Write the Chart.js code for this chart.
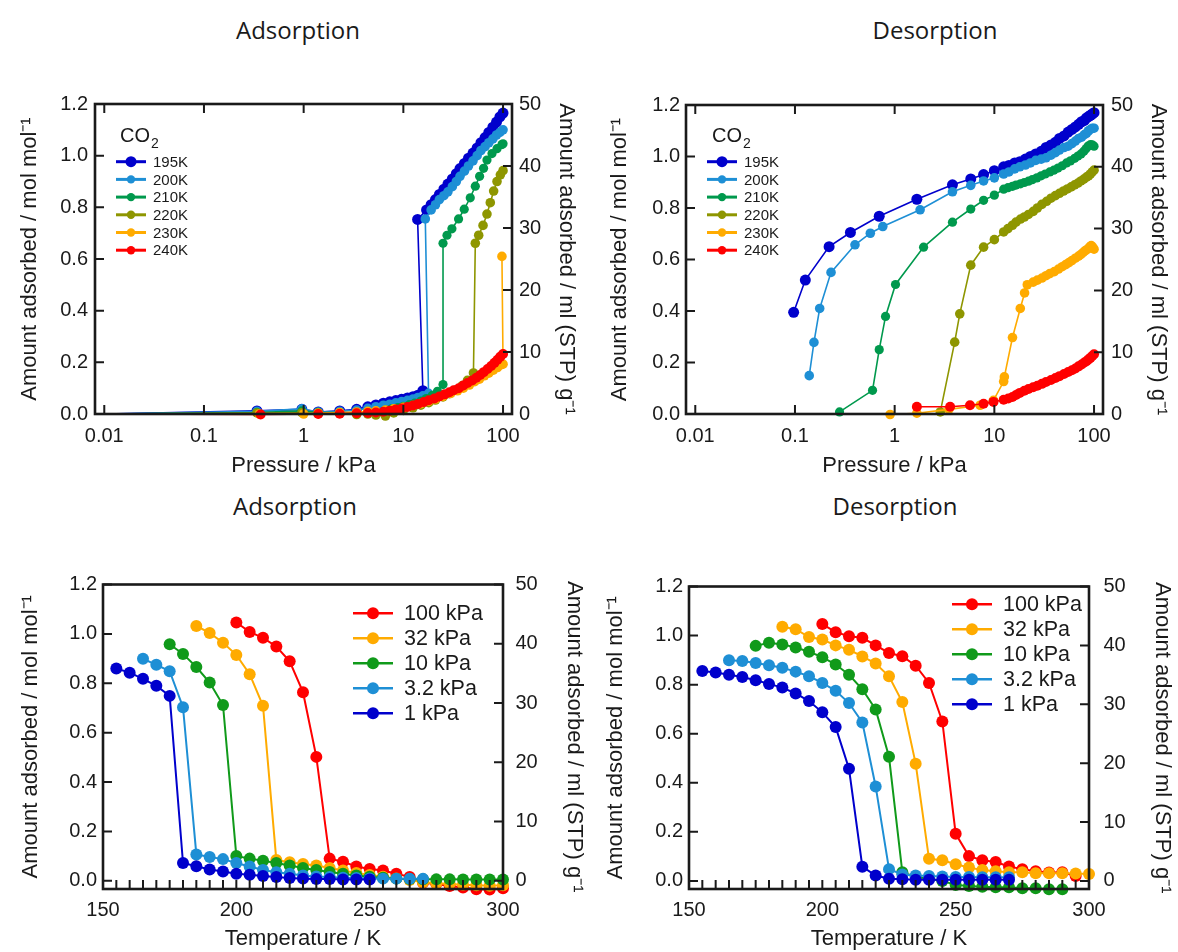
<!DOCTYPE html>
<html>
<head>
<meta charset="utf-8">
<script src="https://cdn.jsdelivr.net/npm/chart.js@4.4.1/dist/chart.umd.min.js"></script>
<style>
  body { margin: 0; background: #fff; width: 1178px; height: 952px; position: relative; overflow: hidden; }
  canvas { position: absolute; }
  .ttl { position: absolute; font-family: "Open Sans", sans-serif; font-size: 24px; color: #1a1a1a;
         transform: translateX(-50%); white-space: nowrap; line-height: 32px; }
</style>
</head>
<body>
<div class="ttl" style="left:298px; top:14px;">Adsorption</div>
<div class="ttl" style="left:935px; top:14px;">Desorption</div>
<div class="ttl" style="left:295px; top:490px;">Adsorption</div>
<div class="ttl" style="left:895px; top:490px;">Desorption</div>

<canvas id="isoAds" width="590" height="400" style="left:0; top:85px;"></canvas>
<canvas id="isoDes" width="588" height="400" style="left:590px; top:85px;"></canvas>
<canvas id="tAds" width="590" height="392" style="left:0; top:560px;"></canvas>
<canvas id="tDes" width="588" height="392" style="left:590px; top:560px;"></canvas>

<script>
// ---- tick values ----
const molTicks = [0, 0.2, 0.4, 0.6, 0.8, 1.0, 1.2];
const mlTicks = [0, 10, 20, 30, 40, 50];
const pTicks = [0.01, 0.1, 1, 10, 100];
const tTicks = [150, 200, 250, 300];
const tMarks = [155, 160, 165, 170, 175, 180, 185, 190, 195, 200, 205, 210, 215, 220, 225, 230, 235, 240, 245,
                250, 255, 260, 265, 270, 275, 280, 285, 290, 295];

// ---- isotherms, adsorption: [pressure kPa, mol/mol] ----
const ads195 = [[0.01,0],[0.34,0.012],[0.96,0.018],[1.4,0.008],[2.3,0.012],[3.4,0.018],[4.4,0.028],[5.3,0.035],[6.3,0.042],[7.3,0.047],[8.4,0.052],[9.6,0.057],[11,0.062],[12.5,0.067],[14,0.073],[15.7,0.09],
  [13.9,0.753],[17.1,0.79],[19,0.81],[21,0.83],[23,0.85],[25.5,0.87],[28,0.89],[31,0.91],[34,0.93],[37,0.95],[41,0.97],[45,0.99],[50,1.01],[55,1.03],[60,1.05],[66,1.07],[72,1.09],[79,1.11],[86,1.13],[93,1.15],[100,1.165]];
const ads200 = [[0.01,0],[0.34,0.01],[0.96,0.02],[1.4,0.008],[2.3,0.01],[3.4,0.015],[4.4,0.022],[5.3,0.028],[6.3,0.034],[7.3,0.038],[8.4,0.043],[9.6,0.048],[11,0.053],[12.5,0.058],[14,0.064],[15.7,0.07],[17.9,0.08],
  [16.6,0.755],[19,0.79],[21,0.81],[23,0.83],[25.5,0.845],[28,0.86],[31,0.88],[34,0.9],[37,0.92],[41,0.94],[45,0.96],[50,0.98],[55,1.0],[60,1.02],[66,1.035],[72,1.05],[79,1.065],[86,1.08],[93,1.09],[100,1.1]];
const ads210 = [[0.01,0],[0.34,0.006],[0.96,0.012],[1.4,0.006],[2.3,0.006],[3.4,0.003],[4.4,0.006],[5.3,0.01],[6.6,0.015],[7.6,0.02],[8.8,0.025],[10,0.03],[11.5,0.036],[13,0.042],[15,0.05],[17,0.06],[19.5,0.072],[22,0.088],[25,0.114],
  [25,0.661],[27.4,0.692],[30.7,0.717],[35.8,0.755],[40.8,0.793],[46.9,0.837],[52.7,0.882],[58.2,0.92],[63.8,0.951],[69,0.983],[77.5,1.008],[87,1.027],[97.5,1.043],[100,1.046]];
const ads220 = [[0.01,0],[0.34,0.004],[0.96,0.005],[1.4,0.002],[2.3,0.003],[3.4,-0.002],[4.4,0],[5.3,-0.004],[6.6,-0.008],[8,0.004],[10,0.014],[12.5,0.024],[15,0.034],[18,0.044],[21,0.054],[25,0.066],[29,0.079],[34,0.094],[39,0.11],[44,0.13],[50.5,0.159],
  [52.7,0.661],[57,0.692],[63,0.73],[69,0.774],[74.5,0.818],[80.5,0.863],[87,0.9],[94,0.926],[100,0.942]];
const ads230 = [[0.01,0],[0.36,0],[1.0,0],[1.4,0.004],[2.3,0.006],[3.4,0.008],[4.4,0.01],[5.3,0.012],[6.6,0.015],[8,0.02],[10,0.026],[12.5,0.033],[15,0.04],[18,0.05],[21,0.058],[25,0.068],[30,0.08],[35,0.09],[40,0.1],[46,0.112],[52,0.125],[58,0.135],[65,0.148],[72,0.158],[80,0.17],[88,0.18],[95,0.19],[100,0.193],
  [97.5,0.61]];
const ads240 = [[0.01,0],[0.37,-0.002],[1.4,0],[2.3,0.001],[3.4,0.003],[4.4,0.004],[5.3,0.006],[6.3,0.009],[7.3,0.013],[8.4,0.017],[9.6,0.021],[11,0.027],[12.5,0.033],[14,0.039],[16,0.046],[18,0.053],[20.5,0.06],[23,0.068],[26,0.076],[29,0.084],[32,0.092],[36,0.1],[40,0.11],[44,0.12],[49,0.13],[54,0.14],[59,0.151],[64,0.162],[70,0.174],[76,0.186],[82,0.198],[88,0.21],[94,0.222],[100,0.232]];

// ---- isotherms, desorption ----
const des195 = [[100,1.17],[96,1.165],[92,1.16],[88,1.155],[84,1.15],[80,1.14],[75,1.135],[70,1.125],[65,1.115],[60,1.105],[55,1.095],[50,1.08],[45,1.07],[41,1.055],[37,1.045],[33,1.035],[29.5,1.02],[26,1.01],[23,1.0],[20.5,0.99],[18,0.98],[16,0.975],[14,0.965],[12.4,0.96],
  [10,0.945],[7.8,0.93],[5.8,0.913],[3.8,0.89],[1.67,0.834],[0.70,0.768],[0.36,0.705],[0.22,0.65],[0.127,0.52],[0.097,0.395]];
const des200 = [[100,1.11],[96,1.11],[92,1.105],[88,1.1],[84,1.09],[80,1.085],[75,1.075],[70,1.07],[65,1.06],[60,1.05],[55,1.04],[50,1.035],[45,1.025],[41,1.015],[37,1.005],[33,0.995],[29.5,0.99],[26,0.985],[23,0.975],[20.5,0.967],[18,0.96],[16,0.952],[14,0.94],[12.4,0.932],
  [10,0.917],[7.8,0.905],[5.8,0.888],[3.8,0.863],[1.8,0.793],[0.76,0.728],[0.57,0.702],[0.40,0.657],[0.23,0.55],[0.177,0.41],[0.155,0.278],[0.139,0.149]];
const des210 = [[100,1.04],[96,1.045],[92,1.046],[87,1.04],[83,1.03],[79,1.02],[74,1.01],[69,1.002],[64,0.993],[58,0.983],[53,0.975],[48,0.964],[43.5,0.955],[39.5,0.947],[36,0.94],[32.4,0.932],[29.5,0.925],[26.7,0.917],[24,0.91],[22,0.904],[20,0.899],[18.3,0.894],[16.5,0.889],[15.2,0.884],[13.7,0.879],[12.4,0.873],
  [10,0.85],[7.8,0.83],[5.8,0.796],[3.8,0.745],[1.95,0.648],[1.02,0.503],[0.81,0.379],[0.70,0.25],[0.60,0.092],[0.28,0.008]];
const des220 = [[100,0.947],[96,0.94],[92,0.932],[88,0.925],[84,0.92],[79,0.912],[74,0.905],[69,0.897],[64,0.89],[59,0.882],[54,0.874],[49.5,0.866],[45,0.857],[41,0.848],[37,0.838],[33.5,0.826],[30,0.814],[27,0.8],[24.6,0.787],[22,0.775],[20,0.765],[18.3,0.757],[16.5,0.745],[15.2,0.733],[13.7,0.72],[12.4,0.707],
  [10,0.677],[7.8,0.648],[5.8,0.578],[4.5,0.389],[4.0,0.279],[2.87,0.008]];
const des230 = [[100,0.64],[97,0.648],[93.7,0.654],[90,0.648],[86,0.64],[82,0.635],[78,0.628],[74,0.62],[70,0.613],[65,0.605],[60,0.596],[56,0.588],[52,0.58],[48,0.572],[44,0.563],[40,0.553],[36,0.545],[33,0.537],[30,0.528],[27,0.52],[24.5,0.512],[21.4,0.502],
  [20.1,0.47],[18.2,0.41],[15.2,0.297],[12.6,0.144],[12.4,0.126],[9.8,0.053],[7.2,0.034],[3.5,0.018],[1.67,0.003],[0.9,-0.002]];
const des240 = [[100,0.232],[96,0.225],[92,0.218],[88,0.212],[84,0.205],[80,0.2],[75,0.192],[70,0.185],[65,0.177],[60,0.17],[55,0.163],[50,0.155],[45,0.147],[41,0.14],[37,0.132],[33,0.124],[30,0.117],[27,0.11],[24.5,0.104],[22,0.097],[20,0.09],[18,0.082],[16.5,0.074],[15.2,0.066],[13.8,0.06],[12.4,0.055],
  [9.8,0.047],[7.8,0.04],[5.7,0.034],[3.6,0.028],[1.67,0.028]];

// ---- isobars: [temperature K, mol/mol] ----
const adsT100 = [[200,1.046],[205,1.008],[210,0.984],[215,0.949],[220,0.889],[225,0.764],[230,0.502],[235,0.09],[240,0.077],[245,0.058],[250,0.048],[255,0.042],[260,0.029],[265,0.016],[270,-0.008],[275,-0.013],[280,-0.021],[285,-0.027],[290,-0.034],[295,-0.035],[300,-0.03]];
const adsT32 = [[185,1.032],[190,1.004],[195,0.964],[200,0.915],[205,0.837],[210,0.709],[215,0.084],[220,0.075],[225,0.068],[230,0.062],[235,0.052],[240,0.042],[245,0.032],[250,0.024],[255,0.017],[260,0.01],[265,0.003],[270,-0.006],[275,-0.01],[280,-0.013],[285,-0.016],[290,-0.018],[295,-0.02],[300,-0.018]];
const adsT10 = [[175,0.958],[180,0.919],[185,0.866],[190,0.803],[195,0.712],[200,0.101],[205,0.09],[210,0.081],[215,0.072],[220,0.062],[225,0.052],[230,0.044],[235,0.036],[240,0.029],[245,0.022],[250,0.017],[255,0.013],[260,0.009],[265,0.007],[270,0.006],[275,0.006],[280,0.006],[285,0.005],[290,0.005],[295,0.005],[300,0.005]];
const adsT3 = [[165,0.899],[170,0.875],[175,0.849],[180,0.703],[185,0.107],[190,0.097],[195,0.088],[200,0.072],[205,0.058],[210,0.044],[215,0.035],[220,0.029],[225,0.022],[230,0.018],[235,0.016],[240,0.013],[245,0.012],[250,0.01],[255,0.009],[260,0.009],[265,0.008],[270,0.008]];
const adsT1 = [[155,0.86],[160,0.843],[165,0.818],[170,0.79],[175,0.749],[180,0.072],[185,0.059],[190,0.046],[195,0.038],[200,0.029],[205,0.025],[210,0.02],[215,0.016],[220,0.012],[225,0.009],[230,0.007],[235,0.007],[240,0.005],[245,0.005],[250,0.005]];

const desT100 = [[200,1.047],[205,1.014],[210,0.997],[215,0.991],[220,0.96],[225,0.929],[230,0.916],[235,0.877],[240,0.807],[245,0.65],[250,0.192],[255,0.101],[260,0.084],[265,0.077],[270,0.059],[275,0.048],[280,0.039],[285,0.034],[290,0.035],[295,0.02]];
const desT32 = [[185,1.036],[190,1.026],[195,0.994],[200,0.984],[205,0.96],[210,0.942],[215,0.915],[220,0.886],[225,0.834],[230,0.729],[235,0.478],[240,0.09],[245,0.084],[250,0.068],[255,0.055],[260,0.044],[265,0.039],[270,0.035],[275,0.035],[280,0.031],[285,0.031],[290,0.031],[295,0.03],[300,0.028]];
const desT10 = [[175,0.958],[180,0.971],[185,0.964],[190,0.951],[195,0.934],[200,0.912],[205,0.882],[210,0.84],[215,0.781],[220,0.699],[225,0.506],[230,0.035],[235,0.016],[240,0.009],[245,0.0],[250,-0.017],[255,-0.021],[260,-0.024],[265,-0.026],[270,-0.026],[275,-0.03],[280,-0.03],[285,-0.034],[290,-0.034]];
const desT3 = [[165,0.899],[170,0.896],[175,0.888],[180,0.879],[185,0.869],[190,0.853],[195,0.834],[200,0.807],[205,0.775],[210,0.725],[215,0.646],[220,0.385],[225,0.048],[230,0.026],[235,0.022],[240,0.02],[245,0.018],[250,0.016],[255,0.016],[260,0.015],[265,0.015],[270,0.015]];
const desT1 = [[155,0.856],[160,0.849],[165,0.84],[170,0.831],[175,0.818],[180,0.803],[185,0.788],[190,0.764],[195,0.733],[200,0.687],[205,0.627],[210,0.457],[215,0.058],[220,0.022],[225,0.009],[230,0.007],[235,0.005],[240,0.005],[245,0.005],[250,0.005],[255,0.005],[260,0.005],[265,0.005],[270,0.005]];

const FONT = '"Liberation Sans", Arial, sans-serif';
const INK = '#1a1a1a';
Chart.defaults.font.family = FONT;
Chart.defaults.color = INK;

const col = { blue: '#0000cc', sky: '#1e8fd5', teal: '#00994d', green: '#109a1a', olive: '#8e9600', orange: '#ffab00', red: '#ff0000' };

// frame, inward ticks and the line+dot legend
const panelPlugin = {
  id: 'panel',
  afterDatasetsDraw(chart, args, o) {
    const { ctx, chartArea: a, scales } = chart;
    ctx.save();
    ctx.strokeStyle = INK;
    ctx.lineWidth = 2;
    ctx.beginPath();
    o.xMarks.forEach(v => {
      const x = scales.x.getPixelForValue(v);
      ctx.moveTo(x, a.bottom); ctx.lineTo(x, a.bottom - o.tick);
      if (o.topMarks) { ctx.moveTo(x, a.top); ctx.lineTo(x, a.top + o.tick); }
    });
    molTicks.forEach(v => {
      const y = scales.y.getPixelForValue(v);
      ctx.moveTo(a.left, y); ctx.lineTo(a.left + o.tick, y);
    });
    mlTicks.forEach(v => {
      const y = scales.y2.getPixelForValue(v);
      ctx.moveTo(a.right, y); ctx.lineTo(a.right - o.tick, y);
    });
    ctx.stroke();
    ctx.lineWidth = 2.6;
    ctx.strokeRect(a.left, a.top, a.right - a.left, a.bottom - a.top);

    const lg = o.legend;
    ctx.textAlign = 'left';
    ctx.textBaseline = 'middle';
    if (lg.header) {
      ctx.fillStyle = INK;
      ctx.font = '20px ' + FONT;
      ctx.fillText('CO', lg.header.x, lg.header.y);
      const w = ctx.measureText('CO').width;
      ctx.font = '14px ' + FONT;
      ctx.fillText('2', lg.header.x + w + 1, lg.header.y + 8);
    }
    chart.data.datasets.forEach((ds, i) => {
      const y = lg.y + i * lg.dy;
      ctx.strokeStyle = ds.borderColor;
      ctx.lineWidth = lg.lw;
      ctx.beginPath(); ctx.moveTo(lg.x, y); ctx.lineTo(lg.x + lg.len, y); ctx.stroke();
      ctx.fillStyle = ds.backgroundColor;
      ctx.beginPath(); ctx.arc(lg.x + lg.len / 2, y, i === 0 && lg.r0 ? lg.r0 : lg.r, 0, Math.PI * 2); ctx.fill();
      ctx.fillStyle = INK;
      ctx.font = lg.font;
      ctx.fillText(ds.label, lg.x + lg.len + lg.gap, y + 1);
    });
    ctx.restore();
  }
};

function series(label, pts, color, order, r, lw) {
  return {
    label,
    data: pts.map(p => ({ x: p[0], y: p[1] })),
    borderColor: color,
    backgroundColor: color,
    borderWidth: lw,
    showLine: true,
    pointRadius: c => (c.raw && c.raw.x < 0.02 ? 0 : r),
    pointBorderWidth: 0,
    order,
    clip: false
  };
}

function makeScales(o) {
  const base = { grid: { display: false, drawTicks: false }, border: { display: false } };
  return {
    x: {
      ...base, type: o.xType, position: 'bottom', min: o.xMin, max: o.xMax,
      afterBuildTicks: s => { s.ticks = o.xTicks.map(v => ({ value: v })); },
      afterFit: s => { s.height = o.xH; },
      ticks: { padding: o.xPad, maxRotation: 0, autoSkip: false, font: { size: 20 }, callback: v => String(v) },
      title: { display: true, text: o.xTitle, font: { size: 22 }, padding: { top: 0, bottom: o.xTitlePad } }
    },
    y: {
      ...base, position: 'left', min: o.yMin, max: 1.2,
      afterBuildTicks: s => { s.ticks = molTicks.map(v => ({ value: v })); },
      afterFit: s => { s.width = o.yW; },
      ticks: { padding: o.yPad, font: { size: 20 }, callback: v => v.toFixed(1) },
      title: { display: true, text: 'Amount adsorbed / mol mol⁻¹', font: { size: 22 }, padding: { top: o.yTitlePad, bottom: 0 } }
    },
    y2: {
      ...base, position: 'right', min: o.yMin * 50 / 1.2, max: 50,
      afterBuildTicks: s => { s.ticks = mlTicks.map(v => ({ value: v })); },
      afterFit: s => { s.width = o.y2W; },
      ticks: { padding: o.y2Pad, font: { size: 20 }, callback: v => String(v) },
      title: { display: true, text: 'Amount adsorbed / ml (STP) g⁻¹', font: { size: 22 }, padding: { top: o.y2TitlePad, bottom: 0 } }
    }
  };
}

function draw(id, datasets, padTop, sc, marks) {
  new Chart(document.getElementById(id), {
    type: 'scatter',
    data: { datasets },
    options: {
      responsive: false,
      animation: false,
      events: [],
      layout: { padding: { top: padTop, left: 0, right: 0, bottom: 0 } },
      plugins: { legend: { display: false }, tooltip: { enabled: false }, panel: marks },
      scales: makeScales(sc)
    },
    plugins: [panelPlugin]
  });
}

const isoSets = (d) => [
  series('195K', d[0], col.blue, 6, 5.5, 1.6),
  series('200K', d[1], col.sky, 5, 4.8, 1.6),
  series('210K', d[2], col.teal, 4, 4.6, 1.6),
  series('220K', d[3], col.olive, 3, 4.8, 1.6),
  series('230K', d[4], col.orange, 2, 4.8, 1.6),
  series('240K', d[5], col.red, 1, 5, 1.6)
];
const barSets = (d) => [
  series('100 kPa', d[0], col.red, 5, 6, 2),
  series('32 kPa', d[1], col.orange, 4, 6, 2),
  series('10 kPa', d[2], col.green, 3, 6, 2),
  series('3.2 kPa', d[3], col.sky, 2, 6, 2),
  series('1 kPa', d[4], col.blue, 1, 6, 2)
];

const isoScale = { xType: 'logarithmic', xMin: 0.00807, xMax: 123, xTicks: pTicks, xH: 71, xPad: 10,
                   xTitle: 'Pressure / kPa', xTitlePad: 6, yMin: 0 };
const tScale = { xType: 'linear', xMin: 150, xMax: 300, xTicks: tTicks, xH: 63, xPad: 9.5,
                 xTitle: 'Temperature / K', xTitlePad: 0, yMin: -0.033 };

draw('isoAds', isoSets([ads195, ads200, ads210, ads220, ads230, ads240]), 13,
  { ...isoScale, yW: 95, y2W: 78, yPad: 7, y2Pad: 7, yTitlePad: 16.8, y2TitlePad: 10.8 },
  { xMarks: pTicks, topMarks: true, tick: 9,
    legend: { header: { x: 120, y: 51 }, x: 116, y: 76.7, dy: 17.7, len: 30, r: 4.2, r0: 5.5, lw: 3, gap: 7, font: '15px ' + FONT } });

draw('isoDes', isoSets([des195, des200, des210, des220, des230, des240]), 13,
  { ...isoScale, yW: 96, y2W: 75, yPad: 6, y2Pad: 8, yTitlePad: 16.8, y2TitlePad: 6.8 },
  { xMarks: pTicks, topMarks: true, tick: 9,
    legend: { header: { x: 122, y: 51 }, x: 117, y: 76.7, dy: 17.7, len: 30, r: 4.2, r0: 5.5, lw: 3, gap: 7, font: '15px ' + FONT } });

draw('tAds', barSets([adsT100, adsT32, adsT10, adsT3, adsT1]), 15,
  { ...tScale, yW: 103, y2W: 87, yPad: 6, y2Pad: 12.5, yTitlePad: 17.8, y2TitlePad: 2.8 },
  { xMarks: tMarks, topMarks: false, tick: 9,
    legend: { x: 353, y: 53.3, dy: 25, len: 40, r: 6, lw: 2.4, gap: 11, font: '21.5px ' + FONT } });

draw('tDes', barSets([desT100, desT32, desT10, desT3, desT1]), 15,
  { ...tScale, yW: 99, y2W: 89, yPad: 6, y2Pad: 14.5, yTitlePad: 12.8, y2TitlePad: 2.8 },
  { xMarks: tMarks, topMarks: false, tick: 9,
    legend: { x: 362, y: 44.3, dy: 25, len: 40, r: 6, lw: 2.4, gap: 11, font: '21.5px ' + FONT } });
</script>
</body>
</html>
